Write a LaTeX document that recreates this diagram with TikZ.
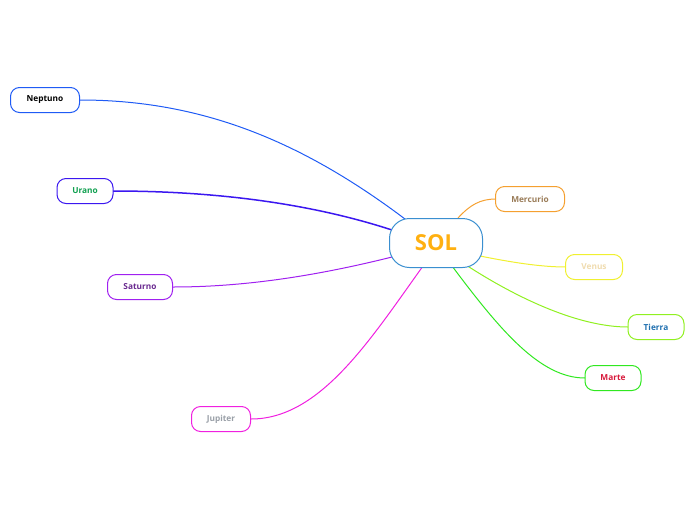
\documentclass[tikz,border=0pt]{standalone}
\usepackage{fontspec}
\setmainfont{Open Sans}
\begin{document}
\begin{tikzpicture}[x=1pt,y=-1pt,
 pl/.style={draw,rounded corners=9pt,line width=1pt,minimum height=25pt,inner sep=0pt,font=\fontsize{8.3}{10}\selectfont\bfseries,fill=white},
 ln/.style={line width=1pt}]
\useasboundingbox (0,0) rectangle (696,520);
\definecolor{cN}{HTML}{1F5BF5}\definecolor{cU}{HTML}{3B17F0}\definecolor{cS}{HTML}{A020F0}
\definecolor{cJ}{HTML}{F020E0}\definecolor{cM}{HTML}{F5A030}\definecolor{cV}{HTML}{F0F030}
\definecolor{cT}{HTML}{90F020}\definecolor{cMa}{HTML}{30E820}
\definecolor{sol}{HTML}{FFB010}\definecolor{merc}{HTML}{9A7C58}\definecolor{ven}{HTML}{F0DCB0}
\definecolor{tie}{HTML}{1F70B0}\definecolor{mar}{HTML}{D81A3C}\definecolor{ura}{HTML}{10A050}
\definecolor{sat}{HTML}{6A2A90}\definecolor{jup}{HTML}{9AA0A8}\definecolor{solb}{HTML}{3A8FD0}
\draw[ln,cN] (405,219) .. controls (300,140) and (200,100) .. (80,100);
\draw[ln,cU,line width=1.5pt] (392,230) .. controls (300,200) and (200,191) .. (113,191);
\draw[ln,cS] (392,257) .. controls (300,280) and (230,287) .. (173,287);
\draw[ln,cJ] (423,266) .. controls (370,340) and (320,419) .. (251,419);
\draw[ln,cM] (458,218) .. controls (470,205) and (480,199) .. (496,199);
\draw[ln,cV] (480,256) .. controls (510,262) and (540,267) .. (566,267);
\draw[ln,cT] (466,265) .. controls (520,300) and (580,327) .. (628,327);
\draw[ln,cMa] (452,266) .. controls (500,330) and (540,378) .. (585,378);
\node[pl,draw=solb,rounded corners=20pt,minimum width=93pt,minimum height=49pt,font=\fontsize{22}{26}\selectfont\bfseries,text=sol] (sol) at (436,243) {SOL};
\node[pl,draw=cM,minimum width=69pt,text=merc] (me) at (530,199) {Mercurio};
\node[pl,draw=cV,minimum width=57pt,text=ven] (ve) at (594,267) {Venus};
\node[pl,draw=cT,minimum width=56pt,text=tie] (ti) at (656,327) {Tierra};
\node[pl,draw=cMa,minimum width=56pt,text=mar] (ma) at (613,378) {Marte};
\node[pl,draw=cN,minimum width=69pt,text=black] (ne) at (45,100) {Neptuno};
\node[pl,draw=cU,minimum width=56pt,text=ura] (ur) at (85,191) {Urano};
\node[pl,draw=cS,minimum width=65pt,text=sat] (sa) at (140,287) {Saturno};
\node[pl,draw=cJ,minimum width=59pt,text=jup] (ju) at (221,419) {Jupiter};
\end{tikzpicture}
\end{document}
